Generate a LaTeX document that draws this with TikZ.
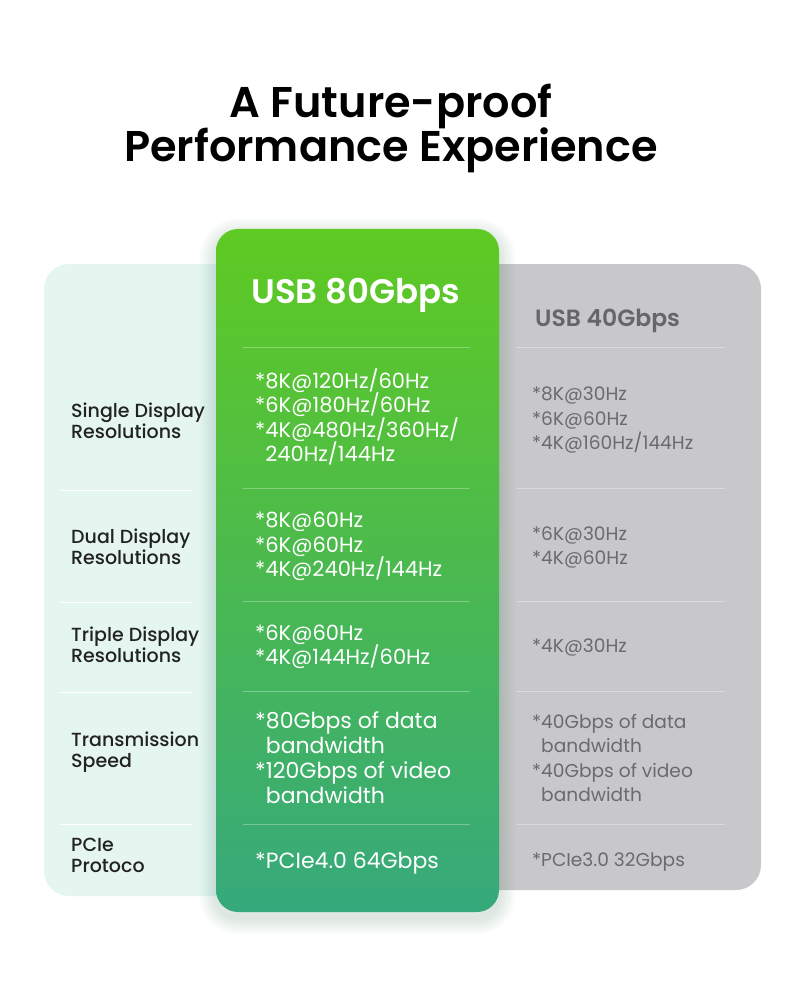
\documentclass[tikz,border=0pt]{standalone}
\usepackage{fontspec}
\setmainfont{Poppins}
\newfontfamily\popmed{Poppins Medium}
\newfontfamily\popsemi{Poppins SemiBold}
\definecolor{mint}{HTML}{E5F6F1}
\definecolor{graybg}{HTML}{C8C8CA}
\definecolor{gtop}{HTML}{5FCA22}
\definecolor{gmid}{HTML}{4BBA4A}
\definecolor{gbot}{HTML}{36A97C}
\definecolor{labeltext}{HTML}{222222}
\definecolor{graytext}{HTML}{6B6B6D}
\definecolor{grayhead}{HTML}{666668}
\definecolor{shadowc}{HTML}{2E7A55}
\begin{document}
\begin{tikzpicture}[x=1pt,y=-1pt,
  lbl/.style={anchor=base west, inner sep=0pt, align=left, text=labeltext, font=\popmed\fontsize{19}{21}\selectfont},
  gtxt/.style={anchor=base west, inner sep=0pt, align=left, text=white, font=\fontsize{21}{24.5}\selectfont},
  gtxtb/.style={gtxt, font=\fontsize{22}{25}\selectfont},
  ytxt/.style={anchor=base west, inner sep=0pt, align=left, text=graytext, font=\fontsize{18.6}{24.5}\selectfont},
  ttl/.style={anchor=base, inner sep=0pt, text=black, font=\popsemi\fontsize{43}{46}\selectfont},
  gsep/.style={draw=white, draw opacity=0.3, line width=1pt},
  ysep/.style={draw=white, draw opacity=0.35, line width=1pt},
  lsep/.style={draw=white, line width=1pt}]
\useasboundingbox[fill=white] (0,0) rectangle (800,1000);
% title
\node[ttl] (t1) at (391,118) {A Future-proof};
\node[ttl] (t2) at (391,162) {Performance Experience};
% panels
\fill[graybg, rounded corners=25pt] (460,264) rectangle (761,890);
\fill[mint, rounded corners=25pt] (44,264) rectangle (260,896);
% soft shadow of the green column
\foreach \s in {2,4,...,16} {
  \fill[shadowc, fill opacity=0.018, rounded corners=22pt+\s pt] (216-\s,229-\s+6) rectangle (499+\s,912+\s+6);
}
\shade[top color=gtop, middle color=gmid, bottom color=gbot, rounded corners=22pt] (216,229) rectangle (499,912);
% separators
\foreach \yy in {347,488,601,691,824} {
  \draw[gsep] (243,\yy) -- (470,\yy);
  \draw[ysep] (517,\yy) -- (725,\yy);
}
\foreach \yy in {490,602,692,824} {
  \draw[lsep] (60,\yy) -- (192,\yy);
}
% headers
\node[anchor=base, inner sep=0pt, text=white, font=\popsemi\fontsize{34}{36}\selectfont] (h80) at (356,303) {USB 80Gbps};
\node[anchor=base west, inner sep=0pt, text=grayhead, font=\popsemi\fontsize{23.5}{26}\selectfont] (h40) at (535,326) {USB 40Gbps};
% left labels (anchor = baseline of last line)
\node[lbl] (l1) at (71,438) {Single Display\\Resolutions};
\node[lbl] (l2) at (71,564) {Dual Display\\Resolutions};
\node[lbl] (l3) at (71,662) {Triple Display\\Resolutions};
\node[lbl] (l4) at (71,767) {Transmission\\Speed};
\node[lbl] (l5) at (71,872) {PCIe\\Protoco};
% green column
\node[gtxt] (g1) at (255,461.5) {*8K@120Hz/60Hz\\*6K@180Hz/60Hz\\*4K@480Hz/360Hz/\\\hphantom{*}240Hz/144Hz};
\node[gtxt] (g2) at (255,576.5) {*8K@60Hz\\*6K@60Hz\\*4K@240Hz/144Hz};
\node[gtxt] (g3) at (255,664.5) {*6K@60Hz\\*4K@144Hz/60Hz};
\node[gtxtb] (g4) at (255,803) {*80Gbps of data\\\hphantom{*}bandwidth\\*120Gbps of video\\\hphantom{*}bandwidth};
\node[gtxtb] (g5) at (255,868) {*PCIe4.0 64Gbps};
% gray column
\node[ytxt] (y1) at (532,449.5) {*8K@30Hz\\*6K@60Hz\\*4K@160Hz/144Hz};
\node[ytxt] (y2) at (532,564.5) {*6K@30Hz\\*4K@60Hz};
\node[ytxt] (y3) at (532,652.5) {*4K@30Hz};
\node[ytxt] (y4) at (532,801.5) {*40Gbps of data\\\hphantom{*}bandwidth\\*40Gbps of video\\\hphantom{*}bandwidth};
\node[ytxt] (y5) at (532,866.5) {*PCIe3.0 32Gbps};
\end{tikzpicture}
\end{document}
